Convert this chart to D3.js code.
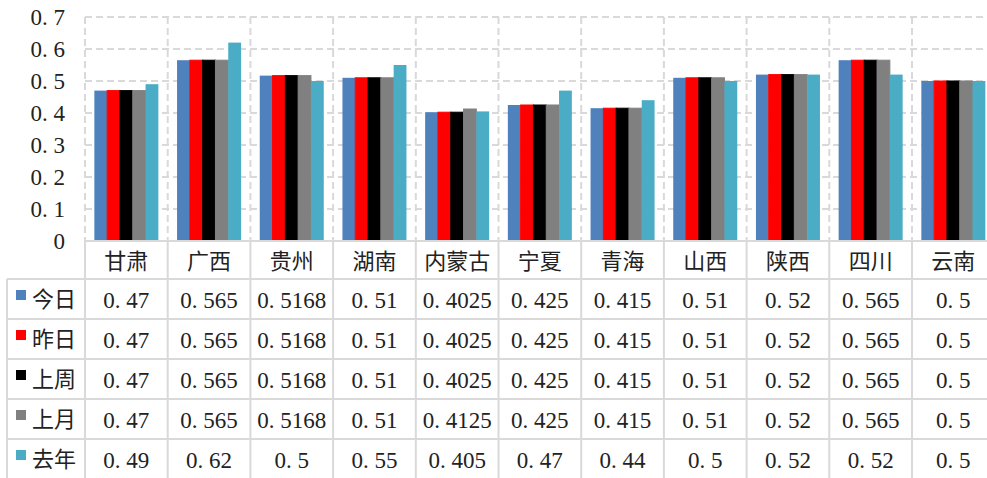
<!DOCTYPE html>
<html><head><meta charset="utf-8">
<script src="https://cdn.jsdelivr.net/npm/d3@7"></script>
<style>
html,body{margin:0;padding:0;background:#fff;overflow:hidden;}
svg{display:block;}
</style></head>
<body>
<svg id="chart" width="987" height="478"></svg>
<script>
const categories = ["甘肃","广西","贵州","湖南","内蒙古","宁夏","青海","山西","陕西","四川","云南"];
const seriesNames = ["今日","昨日","上周","上月","去年"];
const today     = [0.47,0.565,0.5168,0.51,0.4025,0.425,0.415,0.51,0.52,0.565,0.5];
const yesterday = [0.47,0.565,0.5168,0.51,0.4025,0.425,0.415,0.51,0.52,0.565,0.5];
const lastWeek  = [0.47,0.565,0.5168,0.51,0.4025,0.425,0.415,0.51,0.52,0.565,0.5];
const lastMonth = [0.47,0.565,0.5168,0.51,0.4125,0.425,0.415,0.51,0.52,0.565,0.5];
const lastYear  = [0.49,0.62,0.5,0.55,0.405,0.47,0.44,0.5,0.52,0.52,0.5];
const yTicks = [0,0.1,0.2,0.3,0.4,0.5,0.6,0.7];
const colors = ["#4f81bd","#ff0000","#000000","#808080","#4bacc6"];
const strokes = [0,1,1,1,0];

const seriesValues = [today,yesterday,lastWeek,lastMonth,lastYear];

const svg = d3.select("#chart");
const left = 85, bandW = 82.7;
const x = d3.scaleBand().domain(categories).range([left, left + bandW*categories.length]).padding(0);
const xs = d3.scaleBand().domain(seriesNames).range([0, x.bandwidth()]).paddingOuter(0.73).paddingInner(0);
const y = d3.scaleLinear().domain([0,0.7]).range([241,17]);
const grid = "#d9d9d9";
const right = x.range()[1];

const numFont = "'Liberation Serif','Times New Roman',serif";
const cjkFont = "'Noto Sans CJK SC','Noto Sans',sans-serif";
const numSize = 23;

// number text with SimSun-like spacing after the period
function numText(sel, v) {
  const s = String(v);
  const i = s.indexOf(".");
  if (i < 0) { sel.text(s); return; }
  sel.append("tspan").text(s.slice(0, i+1));
  sel.append("tspan").attr("dx", 5.75).text(s.slice(i+1));
}

// horizontal dashed grid
svg.append("g").selectAll("line").data(yTicks.filter(d=>d>0)).join("line")
  .attr("x1", left).attr("x2", right)
  .attr("y1", d=>y(d)).attr("y2", d=>y(d))
  .attr("stroke", grid).attr("stroke-width", 2).attr("stroke-dasharray","7,4");

// vertical dashed grid at category boundaries
const bounds = categories.map(c=>x(c)).concat([right]);
svg.append("g").selectAll("line").data(bounds).join("line")
  .attr("x1", d=>d).attr("x2", d=>d)
  .attr("y1", y(0.7)).attr("y2", y(0))
  .attr("stroke", grid).attr("stroke-width", 2).attr("stroke-dasharray","7,4");

// bars
seriesNames.forEach((s, si) => {
  svg.append("g").selectAll("rect").data(categories).join("rect")
    .attr("x", c => x(c) + xs(s))
    .attr("width", xs.bandwidth())
    .attr("y", (c,i) => y(seriesValues[si][i]))
    .attr("height", (c,i) => y(0) - y(seriesValues[si][i]))
    .attr("fill", colors[si])
    .attr("stroke", strokes[si] ? colors[si] : "none")
    .attr("stroke-width", strokes[si]);
});

// y axis labels
svg.append("g").selectAll("text").data(yTicks).join("text")
  .attr("x", 65).attr("y", d => y(d) + 7.8)
  .attr("text-anchor","end")
  .attr("font-family", numFont).attr("font-size", numSize).attr("fill","#222")
  .each(function(d){ numText(d3.select(this), d); });

// table grid
const tableTop = 241, headerBottom = 279, rowH = 40;
const rowLines = d3.range(6).map(i => headerBottom + i*rowH);
svg.append("line").attr("x1", left).attr("x2", right).attr("y1", tableTop).attr("y2", tableTop)
  .attr("stroke", grid).attr("stroke-width", 2);
svg.append("g").selectAll("line").data(rowLines).join("line")
  .attr("x1", 7).attr("x2", right).attr("y1", d=>d).attr("y2", d=>d)
  .attr("stroke", grid).attr("stroke-width", 2);
svg.append("g").selectAll("line").data(bounds).join("line")
  .attr("x1", d=>d).attr("x2", d=>d).attr("y1", tableTop).attr("y2", 478)
  .attr("stroke", grid).attr("stroke-width", 2);
svg.append("line").attr("x1", 7).attr("x2", 7).attr("y1", headerBottom).attr("y2", 478)
  .attr("stroke", grid).attr("stroke-width", 2);

// header categories
svg.append("g").selectAll("text").data(categories).join("text")
  .attr("x", c => x(c) + x.bandwidth()/2).attr("y", tableTop + 28)
  .attr("text-anchor","middle")
  .attr("font-family", cjkFont).attr("font-size", 22).attr("fill","#222")
  .text(c => c);

// rows
seriesNames.forEach((s, si) => {
  const top = headerBottom + si*rowH;
  const g = svg.append("g");
  g.append("rect").attr("x", 16).attr("y", top + 11).attr("width", 10).attr("height", 10)
    .attr("fill", colors[si]);
  g.append("text").attr("x", 32).attr("y", top + 28)
    .attr("font-family", cjkFont).attr("font-size", 22).attr("fill","#222").text(s);
  g.selectAll("text.v").data(categories).join("text").attr("class","v")
    .attr("x", c => x(c) + x.bandwidth()/2).attr("y", top + 29)
    .attr("text-anchor","middle")
    .attr("font-family", numFont).attr("font-size", numSize).attr("fill","#222")
    .each(function(c,i){ numText(d3.select(this), seriesValues[si][i]); });
});
</script>
</body></html>
